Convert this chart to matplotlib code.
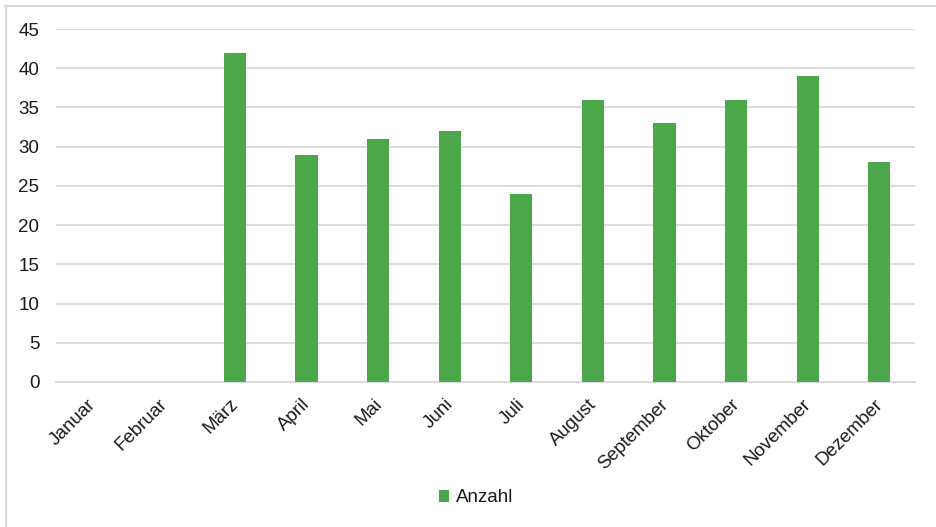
import matplotlib
matplotlib.use("Agg")
import matplotlib.pyplot as plt
import matplotlib.transforms as mtransforms
from matplotlib.lines import Line2D
from matplotlib.patches import Patch

months = ["Januar", "Februar", "März", "April", "Mai", "Juni", "Juli",
          "August", "September", "Oktober", "November", "Dezember"]
anzahl = [0, 0, 42, 29, 31, 32, 24, 36, 33, 36, 39, 28]
yticks = [0, 5, 10, 15, 20, 25, 30, 35, 40, 45]

plt.rcParams['font.family'] = ['Liberation Sans', 'DejaVu Sans']

W, H = 936, 527
fig = plt.figure(figsize=(W / 100, H / 100), dpi=100)
ax = fig.add_axes([56 / W, 1 - 382 / H, (915 - 56) / W, (382 - 29) / H])

green = "#4ca64a"
tc = "#1a1a1a"
fs = 13.5
x = list(range(len(months)))
ax.bar(x, anzahl, width=0.31, color=green, zorder=3)

ax.set_xlim(-0.5, len(months) - 0.5)
ax.set_ylim(0, 45)
ax.set_yticks(yticks)
ax.set_yticklabels([str(v) for v in yticks], fontsize=fs, color=tc)
ax.yaxis.grid(True, color="#d9d9d9", linewidth=1.3, zorder=0)
ax.set_xticks(x)
ax.set_xticklabels(months, rotation=45, ha="right", rotation_mode="anchor",
                   fontsize=fs, color=tc)
ax.tick_params(axis="both", length=0)
ax.tick_params(axis="x", pad=10)
ax.tick_params(axis="y", pad=12)
shift = mtransforms.ScaledTranslation(-5 / 100, 0, fig.dpi_scale_trans)
for lbl in ax.get_xticklabels():
    lbl.set_transform(lbl.get_transform() + shift)
for s in ["top", "right", "left"]:
    ax.spines[s].set_visible(False)
ax.spines["bottom"].set_color("#d9d9d9")
ax.spines["bottom"].set_linewidth(1.3)

# outer chart border (top and left visible)
fig.add_artist(Line2D([5 / W, 1], [1 - 5.5 / H, 1 - 5.5 / H], color="#d9d9d9", linewidth=1.5))
fig.add_artist(Line2D([5.5 / W, 5.5 / W], [0, 1 - 5.5 / H], color="#d9d9d9", linewidth=1.5))

fig.legend(handles=[Patch(facecolor=green, label="Anzahl")],
           loc="center", bbox_to_anchor=(476 / W, 1 - 498 / H), frameon=False,
           fontsize=fs, handlelength=0.55, handleheight=0.55, handletextpad=0.35,
           labelcolor=tc)

fig.savefig("out.png", dpi=100, facecolor="white")
